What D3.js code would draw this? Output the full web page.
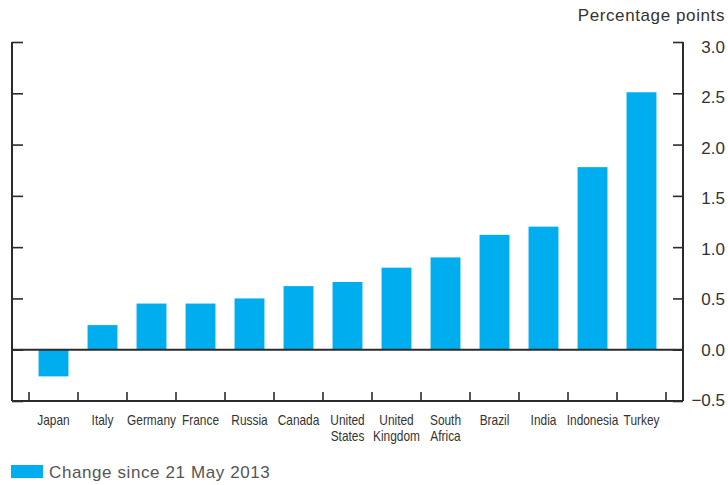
<!DOCTYPE html>
<html>
<head>
<meta charset="utf-8">
<script src="https://cdn.jsdelivr.net/npm/d3@7"></script>
<style>
  body { margin: 0; background: #fff; }
  svg { display: block; }
</style>
</head>
<body>
<div class="chart"></div>
<script>
const countries = [["Japan"], ["Italy"], ["Germany"], ["France"], ["Russia"], ["Canada"],
  ["United", "States"], ["United", "Kingdom"], ["South", "Africa"], ["Brazil"], ["India"], ["Indonesia"], ["Turkey"]]
const change = [-0.26, 0.24, 0.45, 0.45, 0.50, 0.62, 0.66, 0.80, 0.90, 1.12, 1.20, 1.78, 2.51]
const yTicks = [-0.5, 0.0, 0.5, 1.0, 1.5, 2.0, 2.5, 3.0]
const unitLabel = "Percentage points"
const legendLabel = "Change since 21 May 2013"

let width = 728, height = 485
let plotLeft = 12, plotRight = 683, plotTop = 42, plotBottom = 401
let barColor = "#00aeef", axisColor = "#2b2b2b"
let font = "Liberation Sans, Arial, sans-serif"

let svg = d3.select(".chart")
  .append("svg")
  .attr("width", width)
  .attr("height", height)

let x = d3.scaleBand()
  .domain(countries.map((d) => d.join(" ")))
  .range([29, 666])
  .paddingInner(0.39)
  .paddingOuter(0.195)

let y = d3.scaleLinear()
  .domain([-0.5, 3.0])
  .range([plotBottom, plotTop])

// tick labels sit on a slightly tighter spacing than the ticks
let yLabel = d3.scaleLinear()
  .domain([-0.5, 3.0])
  .range([406, 53])

// bars
svg.append("g")
  .selectAll("rect")
  .data(change)
  .enter()
  .append("rect")
  .attr("x", (d, i) => x(countries[i].join(" ")))
  .attr("width", x.bandwidth())
  .attr("y", (d) => y(Math.max(0, d)))
  .attr("height", (d) => Math.abs(y(d) - y(0)))
  .attr("fill", barColor)

// right axis with labels
let rightAxis = svg.append("g")
  .attr("transform", `translate(${plotRight},0)`)
  .call(d3.axisLeft(y).tickValues(yTicks).tickSize(10).tickFormat(""))
rightAxis.select(".domain").remove()
rightAxis.selectAll("line").attr("stroke", axisColor).attr("stroke-width", 1.6)

svg.append("g")
  .selectAll("text")
  .data(yTicks)
  .enter()
  .append("text")
  .attr("x", 725)
  .attr("y", (d) => yLabel(d))
  .attr("text-anchor", "end")
  .attr("font-family", font)
  .attr("font-size", 17)
  .attr("fill", "#333")
  .text((d) => d3.format(".1f")(d))

// left axis: ticks only
let leftAxis = svg.append("g")
  .attr("transform", `translate(${plotLeft},0)`)
  .call(d3.axisRight(y).tickValues(yTicks).tickSize(11).tickFormat(""))
leftAxis.select(".domain").remove()
leftAxis.selectAll("line").attr("stroke", axisColor).attr("stroke-width", 1.6)

// frame lines
svg.append("line")
  .attr("x1", plotLeft).attr("x2", plotLeft).attr("y1", plotTop).attr("y2", plotBottom)
  .attr("stroke", axisColor).attr("stroke-width", 2)
svg.append("line")
  .attr("x1", plotRight).attr("x2", plotRight).attr("y1", plotTop).attr("y2", plotBottom)
  .attr("stroke", axisColor).attr("stroke-width", 2)
svg.append("line")
  .attr("x1", plotLeft).attr("x2", plotRight).attr("y1", plotBottom).attr("y2", plotBottom)
  .attr("stroke", axisColor).attr("stroke-width", 2)
svg.append("line")
  .attr("x1", plotLeft).attr("x2", plotRight).attr("y1", y(0)).attr("y2", y(0))
  .attr("stroke", axisColor).attr("stroke-width", 2)

// category boundary ticks on bottom
let step = x.step()
let bounds = d3.range(countries.length + 1).map((i) => x.range()[0] + i * step)
svg.append("g")
  .selectAll("line")
  .data(bounds)
  .enter()
  .append("line")
  .attr("x1", (d) => d).attr("x2", (d) => d)
  .attr("y1", plotBottom - 9).attr("y2", plotBottom)
  .attr("stroke", axisColor).attr("stroke-width", 1.6)

// category labels, squeezed to look like a narrow face
let labels = svg.append("g")
  .selectAll("text")
  .data(countries)
  .enter()
  .append("text")
  .attr("text-anchor", "middle")
  .attr("transform", (d) => `translate(${x(d.join(" ")) + x.bandwidth() / 2},0) scale(0.85,1)`)
  .attr("font-family", font)
  .attr("font-size", 14)
  .attr("fill", "#333")
labels.selectAll("tspan")
  .data((d) => d)
  .enter()
  .append("tspan")
  .attr("x", 0)
  .attr("y", (d, i) => 425 + i * 16)
  .text((d) => d)

// unit label
svg.append("text")
  .attr("x", 725)
  .attr("y", 21)
  .attr("text-anchor", "end")
  .attr("font-family", font)
  .attr("font-size", 17)
  .attr("letter-spacing", 0.6)
  .attr("fill", "#333")
  .text(unitLabel)

// legend
svg.append("rect")
  .attr("x", 11).attr("y", 465).attr("width", 32).attr("height", 13)
  .attr("fill", barColor)
svg.append("text")
  .attr("x", 49)
  .attr("y", 478)
  .attr("font-family", font)
  .attr("font-size", 17)
  .attr("letter-spacing", 0.6)
  .attr("fill", "#555")
  .text(legendLabel)
</script>
</body>
</html>
